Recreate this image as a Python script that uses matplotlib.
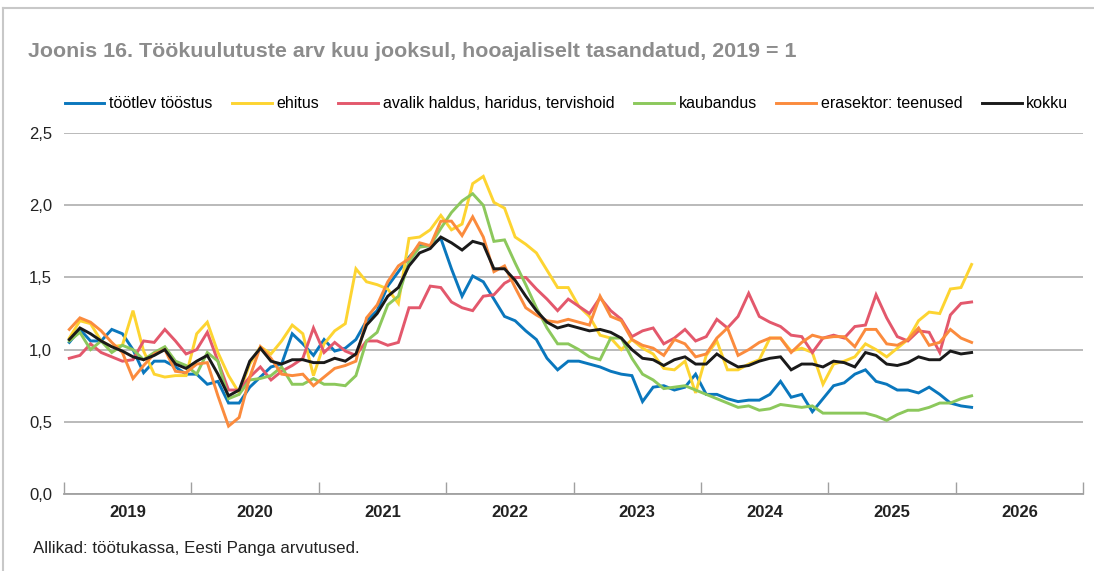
import numpy as np
import matplotlib
matplotlib.use("Agg")
import matplotlib.pyplot as plt
from matplotlib.ticker import FuncFormatter

plt.rcParams['font.family'] = ['Liberation Sans', 'DejaVu Sans']

# monthly data, Jan 2019 .. Feb 2026 (2019 = 1)
tootlev = [1.05, 1.14, 1.06, 1.06, 1.14, 1.11, 1.00, 0.84, 0.92, 0.92, 0.88, 0.83, 0.83, 0.76,
           0.78, 0.63, 0.63, 0.74, 0.81, 0.88, 0.90, 1.11, 1.04, 0.96, 1.07, 0.99, 1.01, 1.07,
           1.20, 1.27, 1.44, 1.54, 1.64, 1.72, 1.72, 1.77, 1.56, 1.37, 1.51, 1.47, 1.35, 1.23, 1.20,
           1.13, 1.07, 0.94, 0.86, 0.92, 0.92, 0.90, 0.88, 0.85, 0.83, 0.82, 0.64, 0.74, 0.75, 0.72,
           0.74, 0.83, 0.69, 0.69, 0.66, 0.64, 0.65, 0.65, 0.69, 0.78, 0.67, 0.69, 0.57, 0.66,
           0.75, 0.77, 0.83, 0.86, 0.78, 0.76, 0.72, 0.72, 0.70, 0.74, 0.69, 0.63, 0.61, 0.60]
ehitus = [1.08, 1.20, 1.18, 1.06, 1.02, 1.03, 1.27, 0.99, 0.83, 0.81, 0.82, 0.82, 1.11, 1.19,
          0.98, 0.82, 0.70, 0.90, 1.02, 0.97, 1.06, 1.17, 1.11, 0.82, 1.04, 1.13, 1.18, 1.56,
          1.47, 1.45, 1.42, 1.32, 1.77, 1.78, 1.83, 1.93, 1.83, 1.87, 2.15, 2.20, 2.02, 1.98, 1.78,
          1.73, 1.67, 1.55, 1.43, 1.43, 1.30, 1.23, 1.10, 1.08, 1.00, 1.07, 1.01, 0.97, 0.87, 0.86,
          0.92, 0.70, 0.96, 1.06, 0.86, 0.86, 0.90, 0.93, 1.08, 1.08, 0.99, 1.01, 0.98, 0.76,
          0.90, 0.92, 0.95, 1.04, 1.00, 0.95, 1.01, 1.07, 1.20, 1.26, 1.25, 1.42, 1.43, 1.59]
avalik = [0.94, 0.96, 1.04, 0.98, 0.95, 0.92, 0.93, 1.06, 1.05, 1.14, 1.06, 0.97, 1.00, 1.12,
          0.92, 0.72, 0.72, 0.81, 0.88, 0.79, 0.85, 0.89, 0.94, 1.15, 0.98, 1.05, 0.99, 0.96,
          1.06, 1.06, 1.03, 1.05, 1.29, 1.29, 1.44, 1.43, 1.33, 1.29, 1.27, 1.37, 1.38, 1.46, 1.50,
          1.50, 1.42, 1.35, 1.27, 1.35, 1.30, 1.25, 1.36, 1.27, 1.21, 1.09, 1.13, 1.15, 1.04, 1.08,
          1.14, 1.06, 1.09, 1.21, 1.15, 1.23, 1.39, 1.23, 1.19, 1.16, 1.10, 1.09, 0.98, 1.08,
          1.10, 1.08, 1.16, 1.17, 1.38, 1.22, 1.09, 1.06, 1.13, 1.12, 0.98, 1.24, 1.32, 1.33]
kaubandus = [1.06, 1.12, 1.00, 1.06, 0.98, 1.03, 1.00, 0.93, 0.98, 1.02, 0.92, 0.89, 0.83, 0.98,
             0.92, 0.66, 0.69, 0.79, 0.80, 0.82, 0.88, 0.76, 0.76, 0.80, 0.76, 0.76, 0.75, 0.82,
             1.06, 1.12, 1.31, 1.37, 1.61, 1.71, 1.72, 1.84, 1.95, 2.03, 2.08, 2.00, 1.75, 1.76, 1.60,
             1.45, 1.29, 1.15, 1.04, 1.04, 1.00, 0.95, 0.93, 1.08, 1.08, 0.94, 0.83, 0.79, 0.73, 0.74,
             0.75, 0.72, 0.69, 0.66, 0.63, 0.60, 0.61, 0.58, 0.59, 0.62, 0.61, 0.60, 0.61, 0.56,
             0.56, 0.56, 0.56, 0.56, 0.54, 0.51, 0.55, 0.58, 0.58, 0.60, 0.63, 0.63, 0.66, 0.68]
teenused = [1.14, 1.22, 1.19, 1.13, 1.05, 0.98, 0.80, 0.89, 0.97, 1.00, 0.85, 0.84, 0.90, 0.91,
            0.68, 0.47, 0.53, 0.81, 1.02, 0.94, 0.83, 0.82, 0.83, 0.75, 0.81, 0.87, 0.89, 0.92,
            1.22, 1.31, 1.47, 1.58, 1.63, 1.74, 1.72, 1.89, 1.89, 1.79, 1.92, 1.78, 1.54, 1.58, 1.43,
            1.29, 1.24, 1.20, 1.19, 1.21, 1.19, 1.17, 1.37, 1.23, 1.20, 1.07, 1.03, 1.01, 0.96, 1.07,
            1.04, 0.95, 0.97, 1.08, 1.15, 0.96, 1.00, 1.05, 1.08, 1.08, 0.98, 1.05, 1.10, 1.08,
            1.09, 1.09, 1.02, 1.14, 1.14, 1.04, 1.03, 1.07, 1.15, 1.03, 1.05, 1.14, 1.08, 1.05]
kokku = [1.07, 1.15, 1.11, 1.06, 1.02, 0.99, 0.95, 0.93, 0.96, 1.00, 0.90, 0.87, 0.92, 0.96,
         0.83, 0.68, 0.72, 0.92, 1.01, 0.92, 0.90, 0.93, 0.93, 0.91, 0.91, 0.94, 0.92, 0.97,
         1.17, 1.25, 1.37, 1.43, 1.58, 1.67, 1.70, 1.78, 1.74, 1.69, 1.75, 1.73, 1.56, 1.56, 1.48,
         1.37, 1.27, 1.19, 1.15, 1.17, 1.15, 1.13, 1.14, 1.12, 1.08, 1.00, 0.94, 0.93, 0.89, 0.93,
         0.95, 0.90, 0.90, 0.97, 0.92, 0.88, 0.89, 0.92, 0.94, 0.95, 0.86, 0.90, 0.90, 0.88,
         0.92, 0.91, 0.88, 0.98, 0.96, 0.90, 0.89, 0.91, 0.95, 0.93, 0.93, 0.99, 0.97, 0.98]

series = [
    ("töötlev tööstus", tootlev, "#0a77bd"),
    ("ehitus", ehitus, "#fdd431"),
    ("avalik haldus, haridus, tervishoid", avalik, "#e3586c"),
    ("kaubandus", kaubandus, "#8cc85c"),
    ("erasektor: teenused", teenused, "#fb8b3d"),
    ("kokku", kokku, "#1a1a1a"),
]
years = list(range(2019, 2027))

fig = plt.figure(figsize=(10.94, 5.71), dpi=100)
ax = fig.add_axes([0.0585, 0.1349, 0.9315, 0.632])

months = 2019 + (np.arange(len(kokku)) + 0.5) / 12
for name, vals, col in series:
    ax.plot(months, vals, color=col, lw=2.1, label=name, solid_joinstyle='miter')

ax.set_xlim(2019, 2027)
ax.set_ylim(0, 2.5)
ax.set_yticks(np.arange(0, 2.51, 0.5))
ax.yaxis.set_major_formatter(FuncFormatter(lambda v, p: f"{v:.1f}".replace(".", ",")))
ax.grid(axis='y', color='#b4b4b4', lw=1.3)
ax.set_axisbelow(True)
for s in ['top', 'right', 'left']:
    ax.spines[s].set_visible(False)
ax.spines['bottom'].set_color('#a0a0a0')
ax.spines['bottom'].set_linewidth(1.3)
ax.tick_params(axis='y', length=0, labelsize=12, pad=8.5, labelcolor='#222222')

ax.set_xticks(range(2019, 2028))
ax.set_xticklabels([])
ax.tick_params(axis='x', which='major', direction='in', length=9, color='#a0a0a0', width=1)
ax.set_xticks([y + 0.5 for y in years], minor=True)
ax.set_xticklabels([str(y) for y in years], minor=True, fontweight='bold', fontsize=12)
ax.tick_params(axis='x', which='minor', length=0, pad=8, labelcolor='#222222')

fig.legend(loc='center left', bbox_to_anchor=(0.059, 0.818), ncol=6, frameon=False,
           fontsize=11.5, handlelength=2.5, columnspacing=1.2, handletextpad=0.3,
           borderaxespad=0, borderpad=0)

fig.text(0.026, 0.910, "Joonis 16. Töökuulutuste arv kuu jooksul, hooajaliselt tasandatud, 2019 = 1",
         fontsize=15.4, fontweight='bold', color='#8c8c8c', va='center')
fig.text(0.030, 0.040, "Allikad: töötukassa, Eesti Panga arvutused.", fontsize=12.2,
         color='#222222', va='center')

# light frame around the figure
fig.add_artist(plt.Line2D([0.003, 0.003], [0, 0.986], color='#c8c8c8', lw=1.5))
fig.add_artist(plt.Line2D([0.003, 1], [0.986, 0.986], color='#c8c8c8', lw=1.5))

fig.savefig("out.png", dpi=100)
